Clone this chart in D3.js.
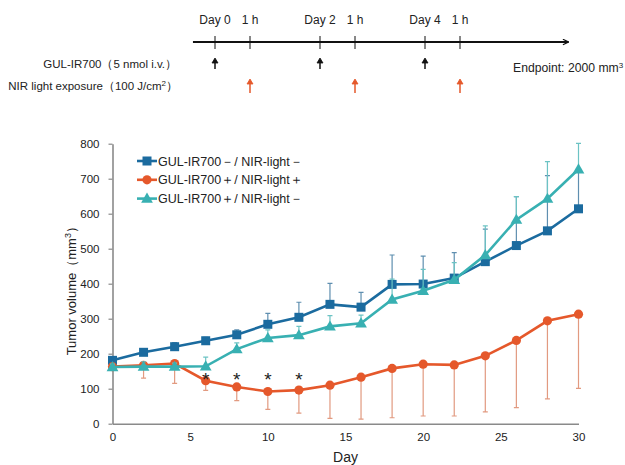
<!DOCTYPE html>
<html>
<head>
<meta charset="utf-8">
<script src="https://cdn.jsdelivr.net/npm/d3@7"></script>
<style>
  body { margin: 0; background: #fff; }
  svg text { font-family: "Liberation Sans", Arial, sans-serif; fill: #222; }
</style>
</head>
<body>
<div id="chart"></div>
<script>
const width = 625;
const height = 465;

// treatment schedule (top panel)
const scheduleLabels = ["Day 0", "1 h", "Day 2", "1 h", "Day 4", "1 h"];
const scheduleSlots = [0, 1, 3, 4, 6, 7]; // evenly spaced slots on the time line
const drugSlots = [0, 3, 6];
const lightSlots = [1, 4, 7];

// tumor growth data
const days = [0, 2, 4, 6, 8, 10, 12, 14, 16, 18, 20, 22, 24, 26, 28, 30];
const ctrlMean = [181, 204, 220, 237, 254, 284, 304, 341, 333, 398, 399, 416, 463, 509, 551, 614];
const ctrlSd = [8, 9, 12, 10, 14, 31, 43, 60, 42, 84, 80, 73, 93, 140, 158, 110];
const pitMean = [163, 167, 172, 123, 105, 92, 96, 110, 133, 158, 170, 168, 194, 238, 294, 313];
const pitSd = [10, 37, 57, 28, 39, 51, 66, 95, 120, 141, 148, 146, 160, 192, 223, 212];
const dyeMean = [162, 163, 163, 164, 213, 245, 253, 278, 287, 355, 380, 411, 482, 583, 643, 727];
const dyeSd = [8, 14, 10, 26, 18, 23, 25, 31, 23, 58, 61, 49, 83, 66, 106, 74];
const sigDays = [6, 8, 10, 12];
const yTicks = [0, 100, 200, 300, 400, 500, 600, 700, 800];
const xTicks = [0, 5, 10, 15, 20, 25, 30];

const series = [
  { name: "GUL-IR700－/ NIR-light－", mean: ctrlMean, sd: ctrlSd, dir: 1, color: "#1b6b9f", errColor: "#5f8fb0", shape: "square" },
  { name: "GUL-IR700＋/ NIR-light＋", mean: pitMean, sd: pitSd, dir: -1, color: "#e5582b", errColor: "#e29a80", shape: "circle" },
  { name: "GUL-IR700＋/ NIR-light－", mean: dyeMean, sd: dyeSd, dir: 1, color: "#38b0b2", errColor: "#6cc3c4", shape: "triangle" }
];

const svg = d3.select("#chart").append("svg")
  .attr("width", width)
  .attr("height", height);

// ---- schedule panel ----
const s = d3.scaleLinear().domain([0, 7]).range([215, 460]);
const lineY = 42;
svg.append("defs").append("marker")
  .attr("id", "head")
  .attr("viewBox", "0 0 10 10")
  .attr("refX", 9).attr("refY", 5)
  .attr("markerWidth", 7).attr("markerHeight", 7)
  .attr("markerUnits", "userSpaceOnUse")
  .attr("orient", "auto")
  .append("path").attr("d", "M1,1 L9,5 L1,9").attr("fill", "none").attr("stroke", "#111").attr("stroke-width", 1.6);

svg.append("line")
  .attr("x1", s(-0.63)).attr("x2", s(10.1))
  .attr("y1", lineY).attr("y2", lineY)
  .attr("stroke", "#111").attr("stroke-width", 1.8)
  .attr("marker-end", "url(#head)");

svg.selectAll(".sched-tick").data(scheduleSlots).enter().append("line")
  .attr("x1", d => s(d)).attr("x2", d => s(d))
  .attr("y1", lineY - 6).attr("y2", lineY + 7)
  .attr("stroke", "#111").attr("stroke-width", 1);

svg.selectAll(".sched-label").data(scheduleLabels).enter().append("text")
  .attr("x", (d, i) => s(scheduleSlots[i]))
  .attr("y", 24)
  .attr("text-anchor", "middle")
  .style("font-size", "12px")
  .text(d => d);

function arrow(x, y1, y2, color) {
  svg.append("line").attr("x1", x).attr("x2", x).attr("y1", y1 + 3).attr("y2", y2)
    .attr("stroke", color).attr("stroke-width", 1.5);
  svg.append("path")
    .attr("d", `M${x - 3},${y1 + 5} L${x},${y1} L${x + 3},${y1 + 5} Z`)
    .attr("fill", color).attr("stroke", color).attr("stroke-width", 0.8);
}
drugSlots.forEach(d => arrow(s(d), 58, 69, "#111"));
lightSlots.forEach(d => arrow(s(d), 79, 93, "#e5582b"));

svg.append("text").attr("x", 177).attr("y", 68).attr("text-anchor", "end")
  .style("font-size", "11.5px").text("GUL-IR700（5 nmol i.v.）");
const nir = svg.append("text").attr("x", 178).attr("y", 90).attr("text-anchor", "end")
  .style("font-size", "11.5px");
nir.append("tspan").text("NIR light exposure（100 J/cm");
nir.append("tspan").attr("dy", -4).style("font-size", "8px").text("2");
nir.append("tspan").attr("dy", 4).text("）");
const ep = svg.append("text").attr("x", 513).attr("y", 72).style("font-size", "12.2px");
ep.append("tspan").text("Endpoint: 2000 mm");
ep.append("tspan").attr("dy", -4).style("font-size", "8px").text("3");

// ---- growth chart ----
const x = d3.scaleLinear().domain([0, 30]).range([112.5, 578.5]);
const y = d3.scaleLinear().domain([0, 800]).range([423.7, 143.7]);
const axisColor = "#8a8a8a";

const yAxis = svg.append("g").attr("transform", `translate(${x(0)},0)`)
  .call(d3.axisLeft(y).tickValues(yTicks).tickSize(4).tickSizeOuter(0).tickPadding(9));
const xAxis = svg.append("g").attr("transform", `translate(0,${y(0)})`)
  .call(d3.axisBottom(x).tickValues(xTicks).tickSize(0).tickSizeOuter(0).tickPadding(9));
[xAxis, yAxis].forEach(a => {
  a.select(".domain").attr("stroke", axisColor).attr("stroke-width", 1.6);
  a.selectAll(".tick line").attr("stroke", axisColor).attr("stroke-width", 1.2);
  a.selectAll(".tick text").style("font-size", "11.5px").style("font-family", "Liberation Sans, Arial, sans-serif").attr("fill", "#333");
});

const yTitle = svg.append("text")
  .attr("transform", `translate(76,${(y(0) + y(800)) / 2 + 4}) rotate(-90)`)
  .attr("text-anchor", "middle")
  .style("font-size", "13px");
yTitle.append("tspan").text("Tumor volume（mm");
yTitle.append("tspan").attr("dy", -5).style("font-size", "9px").text("3");
yTitle.append("tspan").attr("dy", 5).text("）");

svg.append("text").attr("x", (x(0) + x(30)) / 2).attr("y", 462)
  .attr("text-anchor", "middle").style("font-size", "14px").text("Day");

function drawMarker(g, shape, color) {
  if (shape === "square") {
    g.append("rect").attr("x", -4.5).attr("y", -4.5).attr("width", 9).attr("height", 9).attr("fill", color);
  } else if (shape === "circle") {
    g.append("circle").attr("r", 4.6).attr("fill", color);
  } else {
    g.append("path").attr("d", d3.symbol(d3.symbolTriangle, 60)()).attr("transform", "translate(0,0.8)").attr("fill", color);
  }
}

const lineGen = d3.line().x(d => x(d.day)).y(d => y(d.v));

series.forEach(se => {
  const pts = days.map((d, i) => ({ day: d, v: se.mean[i], sd: se.sd[i] }));
  const g = svg.append("g");
  // error bars
  g.selectAll(".err").data(pts).enter().append("path")
    .attr("d", d => {
      const yEnd = y(Math.min(d.v + se.dir * d.sd, 805));
      return `M${x(d.day)},${y(d.v)} V${yEnd} M${x(d.day) - 2.5},${yEnd} H${x(d.day) + 2.5}`;
    })
    .attr("stroke", se.errColor).attr("stroke-width", 1.2).attr("fill", "none");
  g.append("path").datum(pts).attr("d", lineGen)
    .attr("fill", "none").attr("stroke", se.color).attr("stroke-width", 2.6);
  g.selectAll(".pt").data(pts).enter().append("g")
    .attr("transform", d => `translate(${x(d.day)},${y(d.v)})`)
    .each(function() { drawMarker(d3.select(this), se.shape, se.color); });
});

// significance marks
svg.selectAll(".sig").data(sigDays).enter().append("text")
  .attr("x", d => x(d)).attr("y", y(135) + 10)
  .attr("text-anchor", "middle")
  .style("font-size", "19px").attr("fill", "#555")
  .text("*");

// legend
const legend = svg.append("g").attr("transform", "translate(137,161)");
series.forEach((se, i) => {
  const row = legend.append("g").attr("transform", `translate(0,${i * 18.8})`);
  row.append("line").attr("x1", 0).attr("x2", 20).attr("stroke", se.color).attr("stroke-width", 2.6);
  const m = row.append("g").attr("transform", "translate(10,0)");
  drawMarker(m, se.shape, se.color);
  row.append("text").attr("x", 21).attr("y", 4.5).style("font-size", "12.5px").text(se.name);
});
</script>
</body>
</html>
